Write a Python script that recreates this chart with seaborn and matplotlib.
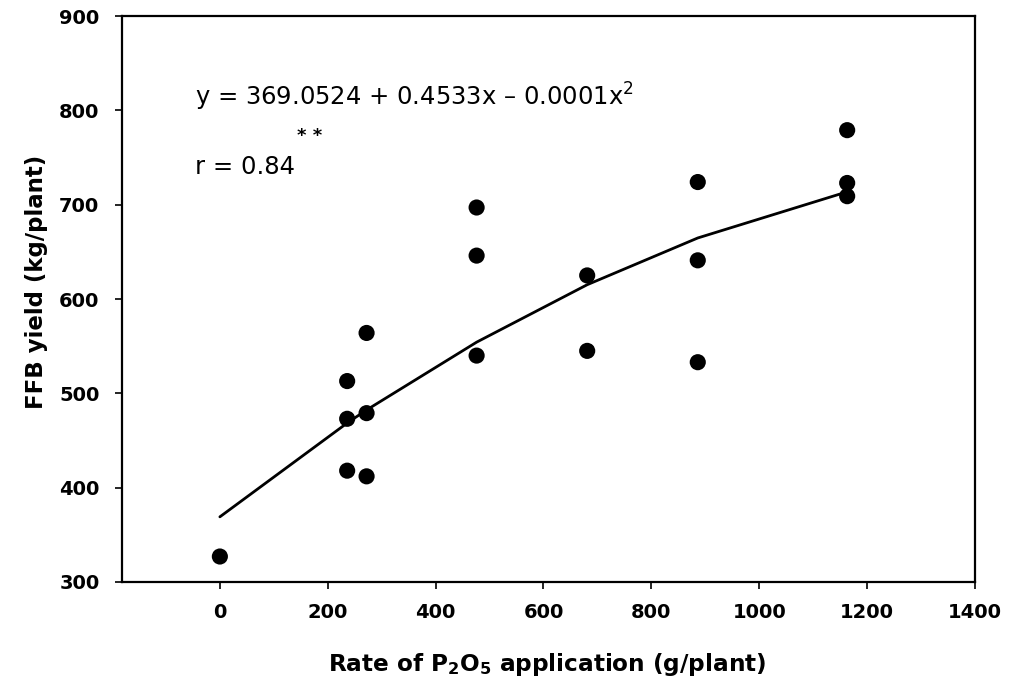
import numpy as np
import pandas as pd
import matplotlib
matplotlib.use("Agg")
import matplotlib.pyplot as plt
import seaborn as sns

# Observed FFB yield for each P2O5 rate
rate = [0, 236, 236, 236, 272, 272, 272, 476, 476, 476,
        681, 681, 886, 886, 886, 1163, 1163, 1163]
yield_kg = [327, 513, 473, 418, 564, 479, 412, 697, 646, 540,
            625, 545, 724, 641, 533, 779, 723, 709]

# Quadratic fit coefficients (intercept, linear, quadratic)
coef = [369.0524, 0.4533, -0.000135]

x_ticks = [0, 200, 400, 600, 800, 1000, 1200, 1400]
y_ticks = [300, 400, 500, 600, 700, 800, 900]

df = pd.DataFrame({"rate": rate, "yield": yield_kg})
fit_x = np.array(sorted(set(rate)), dtype=float)
fit_df = pd.DataFrame({"rate": fit_x,
                       "yield": coef[0] + coef[1] * fit_x + coef[2] * fit_x ** 2})

sns.set_theme(style="ticks")
plt.rcParams["font.family"] = ["DejaVu Sans"]
plt.rcParams["mathtext.fontset"] = "dejavusans"
for key in ("text.color", "axes.labelcolor", "xtick.color", "ytick.color",
            "axes.edgecolor"):
    plt.rcParams[key] = "black"

fig = plt.figure(figsize=(10.15, 6.85), dpi=100)
ax = fig.add_axes([0.1199, 0.1504, 0.9606 - 0.1199, 0.9766 - 0.1504])

sns.lineplot(data=fit_df, x="rate", y="yield", ax=ax, color="black",
             linewidth=2.0, zorder=2)
sns.scatterplot(data=df, x="rate", y="yield", ax=ax, color="black",
                s=135, edgecolor="none", zorder=3)

ax.set_xlim(-182, 1400)
ax.set_ylim(300, 900)
ax.set_xticks(x_ticks)
ax.set_yticks(y_ticks)
ax.set_xticklabels([str(t) for t in x_ticks], fontweight="bold", fontsize=14)
ax.set_yticklabels([str(t) for t in y_ticks], fontweight="bold", fontsize=14)
ax.tick_params(axis="both", direction="out", length=5, width=1.2,
               color="black", labelcolor="black")
ax.tick_params(axis="x", pad=10)
ax.tick_params(axis="y", pad=11)
for sp in ax.spines.values():
    sp.set_visible(True)
    sp.set_color("black")
    sp.set_linewidth(1.6)

ax.set_xlabel("")
ax.set_ylabel("")
fig.text(547 / 1015, 1 - 665 / 685,
         r"Rate of P$_{\mathbf{2}}$O$_{\mathbf{5}}$ application (g/plant)",
         ha="center", va="center", fontsize=16.7, fontweight="bold")
fig.text(37 / 1015, 1 - 282 / 685, "FFB yield (kg/plant)",
         ha="center", va="center", rotation=90, fontsize=16.5, fontweight="bold")

ax.text(195, 97, r"y = 369.0524 + 0.4533x – 0.0001x$^{\mathrm{2}}$",
        transform=None, fontsize=17.5, ha="left", va="center")
ax.text(195, 167, "r = 0.84", transform=None, fontsize=17.5,
        ha="left", va="center")
ax.text(297, 136, "* *", transform=None, fontsize=13, fontweight="bold",
        ha="left", va="center")

# text placed in pixel coordinates from the top-left corner
for t in ax.texts:
    x, y = t.get_position()
    t.set_transform(fig.dpi_scale_trans)
    t.set_position((x / 100, (685 - y) / 100))

fig.savefig("out.png", dpi=100, facecolor="white")
